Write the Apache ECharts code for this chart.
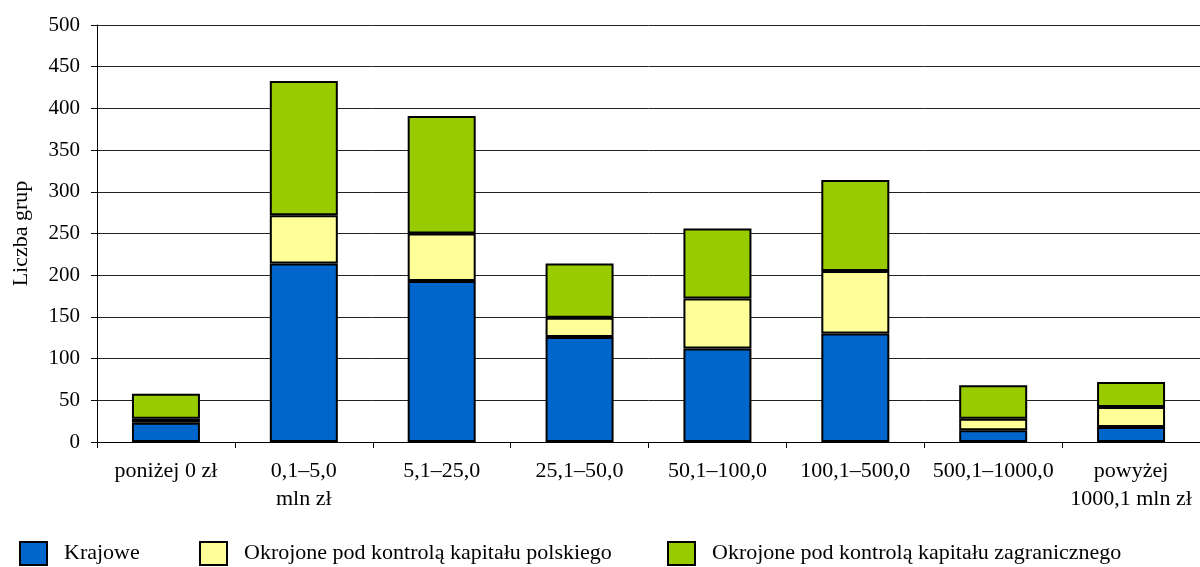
<!DOCTYPE html>
<html>
<head>
<meta charset="utf-8">
<script src="https://cdn.jsdelivr.net/npm/echarts@6/dist/echarts.min.js"></script>
<style>
  html, body { margin: 0; padding: 0; background: #fff; }
  #chart { width: 1200px; height: 567px; }
</style>
</head>
<body>
<div id="chart"></div>
<script>
const categories = [
  'poniżej 0 zł',
  '0,1–5,0\nmln zł',
  '5,1–25,0',
  '25,1–50,0',
  '50,1–100,0',
  '100,1–500,0',
  '500,1–1000,0',
  'powyżej\n1000,1 mln zł'
]
const seriesNames = [
  'Krajowe',
  'Okrojone pod kontrolą kapitału polskiego',
  'Okrojone pod kontrolą kapitału zagranicznego'
]
const krajowe = [23, 214, 193, 126, 112, 130, 14, 18]
const polskie = [5, 58, 57, 23, 60, 75, 14, 24]
const zagraniczne = [30, 161, 141, 65, 84, 109, 40, 30]
const yTicks = [0, 50, 100, 150, 200, 250, 300, 350, 400, 450, 500]

const colors = ['#0066cc', '#ffff99', '#99cc00']
const font = 'Liberation Serif, Times New Roman, serif'
const fontSize = 22

const chart = echarts.init(document.getElementById('chart'))

// one legend per item so they sit where the original puts them
const legendLeft = [14, 194, 662]
const legends = seriesNames.map((name, i) => ({
  data: [name],
  left: legendLeft[i],
  top: 536,
  itemWidth: 27,
  itemHeight: 23,
  icon: 'rect',
  selectedMode: false,
  textStyle: {
    fontFamily: font,
    fontSize: fontSize,
    color: '#000',
    padding: [0, 0, 0, 12]
  }
}))

const option = {
  animation: false,
  color: colors,
  textStyle: { fontFamily: font },
  legend: legends,
  grid: {
    left: 97,
    right: 0,
    top: 25,
    bottom: 125,
    containLabel: false,
    outerBoundsMode: 'none'
  },
  xAxis: {
    type: 'category',
    data: categories,
    axisLine: { lineStyle: { color: '#000', width: 1 } },
    axisTick: { show: true, length: 6, lineStyle: { color: '#000' } },
    axisLabel: {
      interval: 0,
      color: '#000',
      fontFamily: font,
      fontSize: fontSize,
      lineHeight: 28,
      margin: 15
    }
  },
  yAxis: {
    type: 'value',
    min: yTicks[0],
    max: yTicks[yTicks.length - 1],
    interval: 50,
    name: 'Liczba grup',
    nameLocation: 'middle',
    nameGap: 65,
    nameTextStyle: { fontFamily: font, fontSize: fontSize, color: '#000' },
    axisLine: { show: true, lineStyle: { color: '#000' } },
    axisTick: { show: true, length: 6, lineStyle: { color: '#000' } },
    axisLabel: {
      color: '#000',
      fontFamily: font,
      fontSize: 21,
      margin: 17
    },
    splitLine: { show: true, lineStyle: { color: '#222', width: 1 } }
  },
  series: [krajowe, polskie, zagraniczne].map((d, i) => ({
    name: seriesNames[i],
    type: 'bar',
    stack: 'total',
    barWidth: 68,
    data: d,
    itemStyle: {
      color: colors[i],
      borderColor: '#000',
      borderWidth: 2
    }
  }))
}

chart.setOption(option)
</script>
</body>
</html>
